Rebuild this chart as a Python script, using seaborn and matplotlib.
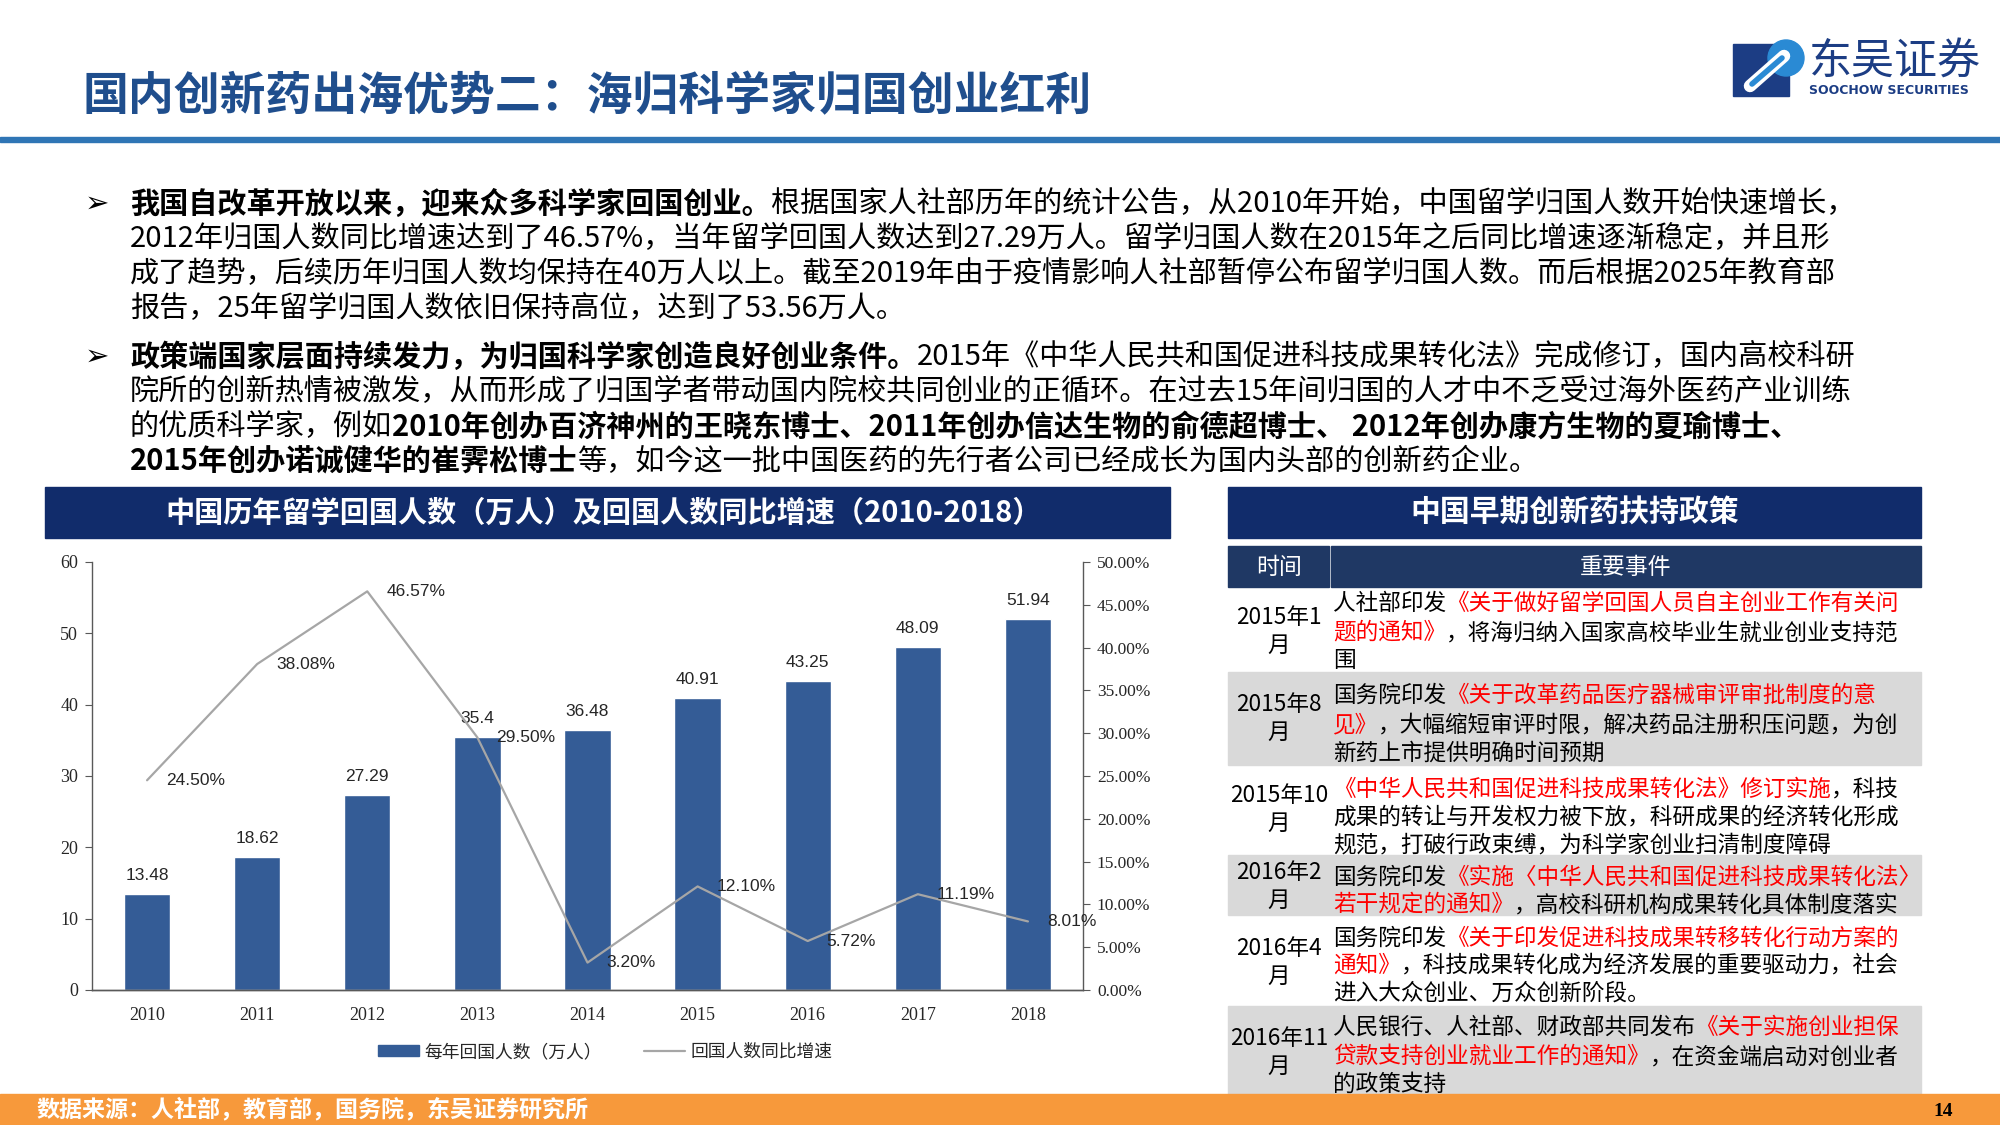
import matplotlib
matplotlib.use('Agg')
import numpy as np
import matplotlib.pyplot as plt
from matplotlib.patches import Rectangle, Patch, Circle
from matplotlib.lines import Line2D
import seaborn as sns

# ---- data ----
years = ['2010', '2011', '2012', '2013', '2014', '2015', '2016', '2017', '2018']
returnees = [13.48, 18.62, 27.29, 35.4, 36.48, 40.91, 43.25, 48.09, 51.94]   # 万人
growth = [24.50, 38.08, 46.57, 29.50, 3.20, 12.10, 5.72, 11.19, 8.01]        # %
left_ticks = list(range(0, 61, 10))
right_ticks = list(range(0, 51, 5))

title = '国内创新药出海优势二：海归科学家归国创业红利'
chart_title = '中国历年留学回国人数（万人）及回国人数同比增速（2010-2018）'
table_title = '中国早期创新药扶持政策'
legend_labels = ['每年回国人数（万人）', '回国人数同比增速']
source = '数据来源：人社部，教育部，国务院，东吴证券研究所'

# body text, one list of (text, bold) per line
bullet1 = [
    [('我国自改革开放以来，迎来众多科学家回国创业。', True),
     ('根据国家人社部历年的统计公告，从2010年开始，中国留学归国人数开始快速增长，', False)],
    [('2012年归国人数同比增速达到了46.57%，当年留学回国人数达到27.29万人。留学归国人数在2015年之后同比增速逐渐稳定，并且形', False)],
    [('成了趋势，后续历年归国人数均保持在40万人以上。截至2019年由于疫情影响人社部暂停公布留学归国人数。而后根据2025年教育部', False)],
    [('报告，25年留学归国人数依旧保持高位，达到了53.56万人。', False)],
]
bullet2 = [
    [('政策端国家层面持续发力，为归国科学家创造良好创业条件。', True),
     ('2015年《中华人民共和国促进科技成果转化法》完成修订，国内高校科研', False)],
    [('院所的创新热情被激发，从而形成了归国学者带动国内院校共同创业的正循环。在过去15年间归国的人才中不乏受过海外医药产业训练', False)],
    [('的优质科学家，例如', False),
     ('2010年创办百济神州的王晓东博士、2011年创办信达生物的俞德超博士、 2012年创办康方生物的夏瑜博士、', True)],
    [('2015年创办诺诚健华的崔霁松博士', True),
     ('等，如今这一批中国医药的先行者公司已经成长为国内头部的创新药企业。', False)],
]

# table: time label and event lines of (text, red?)
policy_times = ['2015年1\n月', '2015年8\n月', '2015年10\n月', '2016年2\n月', '2016年4\n月', '2016年11\n月']
policy_events = [
    [[('人社部印发', False), ('《关于做好留学回国人员自主创业工作有关问', True)],
     [('题的通知》', True), ('，将海归纳入国家高校毕业生就业创业支持范', False)],
     [('围', False)]],
    [[('国务院印发', False), ('《关于改革药品医疗器械审评审批制度的意', True)],
     [('见》', True), ('，大幅缩短审评时限，解决药品注册积压问题，为创', False)],
     [('新药上市提供明确时间预期', False)]],
    [[('《中华人民共和国促进科技成果转化法》修订实施', True), ('，科技', False)],
     [('成果的转让与开发权力被下放，科研成果的经济转化形成', False)],
     [('规范，打破行政束缚，为科学家创业扫清制度障碍', False)]],
    [[('国务院印发', False), ('《实施〈中华人民共和国促进科技成果转化法〉', True)],
     [('若干规定的通知》', True), ('，高校科研机构成果转化具体制度落实', False)]],
    [[('国务院印发', False), ('《关于印发促进科技成果转移转化行动方案的', True)],
     [('通知》', True), ('，科技成果转化成为经济发展的重要驱动力，社会', False)],
     [('进入大众创业、万众创新阶段。', False)]],
    [[('人民银行、人社部、财政部共同发布', False), ('《关于实施创业担保', True)],
     [('贷款支持创业就业工作的通知》', True), ('，在资金端启动对创业者', False)],
     [('的政策支持', False)]],
]

# ---- style ----
sns.set_style('white')
CJK = ['Noto Sans CJK SC', 'DejaVu Sans']
SERIF = ['Liberation Serif', 'DejaVu Serif']
NARROW = ['Liberation Sans Narrow', 'Liberation Sans', 'DejaVu Sans']
plt.rcParams['font.family'] = CJK

NAVY = '#112C6B'
HEAD = '#1F3864'
BAR = '#345C96'
LINE = '#A6A6A6'
AXC = '#595959'

W, H = 2000, 1125
fig = plt.figure(figsize=(20, 11.25), dpi=100)
bg = fig.add_axes([0, 0, 1, 1])
bg.set_xlim(0, W)
bg.set_ylim(H, 0)
bg.axis('off')
renderer = fig.canvas.get_renderer()


def runs(x, y, parts, size, colors):
    # draw text pieces one after another on a line
    for txt, flag in parts:
        t = bg.text(x, y, txt, fontsize=size, color=colors[flag][0],
                    fontweight=colors[flag][1], va='center_baseline', ha='left', family=CJK)
        x += t.get_window_extent(renderer).width
    return x


# title + rule
bg.text(83, 97, title, fontsize=33, fontweight='bold', color='#1F4E8D', va='center')
bg.add_patch(Rectangle((0, 137), W, 5, color='#2F75B5'))

# logo
bg.add_patch(Rectangle((1733, 44), 56, 52, color='#1C3D84'))
bg.add_patch(Circle((1786, 58), 18, color='#2A8AD4'))
bg.plot([1750, 1784], [86, 56], color='white', lw=9, solid_capstyle='round')
bg.plot([1752, 1782], [84, 58], color='#2A8AD4', lw=4, solid_capstyle='round')
bg.text(1809, 62, '东吴证券', fontsize=31, color='#1C3D84', va='center', ha='left')
bg.text(1809, 91, 'SOOCHOW SECURITIES', fontsize=9, fontweight='bold', color='#1C3D84',
        va='center', ha='left', family='DejaVu Sans')

# body bullets
body_colors = {True: ('black', 'bold'), False: ('black', 'normal')}
for lines, ys in [(bullet1, [201, 236, 271, 306]), (bullet2, [354, 389, 424, 459])]:
    bg.text(85, ys[0], '➢', fontsize=21, color='black', va='center_baseline', family=['DejaVu Sans'])
    for parts, y in zip(lines, ys):
        runs(130, y, parts, 21, body_colors)

# chart header band
bg.add_patch(Rectangle((45, 487), 1125, 51, color=NAVY))
bg.text(604, 513, chart_title, fontsize=21, fontweight='bold', color='white', ha='center', va='center')

# table
bg.add_patch(Rectangle((1228, 487), 693, 51, color=NAVY))
bg.text(1575, 513, table_title, fontsize=21.5, fontweight='bold', color='white', ha='center', va='center')
bg.add_patch(Rectangle((1228, 546), 101, 41, color=HEAD))
bg.add_patch(Rectangle((1331, 546), 590, 41, color=HEAD))
bg.text(1279, 567, '时间', fontsize=16.5, color='white', ha='center', va='center')
bg.text(1626, 567, '重要事件', fontsize=16.5, color='white', ha='center', va='center')
for y0, h in [(672, 93), (855, 60), (1006, 88)]:
    bg.add_patch(Rectangle((1228, y0), 693, h, color='#D9D9D9'))

event_y = [[601, 630, 658], [693, 722, 751], [787, 815, 842],
           [875, 902], [936, 963, 991], [1025, 1054, 1082]]
time_y = [615, 702, 793, 870, 946, 1036]
ev_colors = {True: ('#FF0000', 'normal'), False: ('black', 'normal')}
for tlabel, ty, ev, eys in zip(policy_times, time_y, policy_events, event_y):
    for k, part in enumerate(tlabel.split('\n')):
        bg.text(1279, ty + 28 * k, part, fontsize=16.3, color='black', ha='center', va='center_baseline')
    for parts, y in zip(ev, eys):
        runs(1333, y, parts, 16.3, ev_colors)

# footer
bg.add_patch(Rectangle((0, 1094), W, 31, color='#F7993B'))
bg.text(36, 1110, source, fontsize=16.6, fontweight='bold', color='white', va='center')
bg.text(1943, 1111, '14', fontsize=14, fontweight='bold', color='black', va='center', ha='center',
        family=SERIF)

# ---- chart ----
ax = fig.add_axes([92 / W, 1 - 990 / H, (1083 - 92) / W, (990 - 562) / H])
sns.barplot(x=years, y=returnees, color=BAR, saturation=1, width=0.42, ax=ax)
ax.bar_label(ax.containers[0], labels=[f'{v:g}' for v in returnees], padding=8,
             fontsize=12.5, family=NARROW)
ax.set_ylim(0, 60)
ax.set_yticks(left_ticks)
ax.set_xlabel('')
ax.set_ylabel('')

ax2 = ax.twinx()
sns.lineplot(x=np.arange(len(years)), y=growth, color=LINE, linewidth=1.6, ax=ax2)
for i, v in enumerate(growth):
    ax2.annotate(f'{v:.2f}%', (i, v), xytext=(19, 0), textcoords='offset pixels',
                 ha='left', va='center', fontsize=12.5, family=NARROW)
ax2.set_ylim(0, 50)
ax2.set_yticks(right_ticks)
ax2.set_yticklabels([f'{v:.2f}%' for v in right_ticks])
ax2.set_ylabel('')
ax.set_xlim(-0.5, len(years) - 0.5)

for a in (ax, ax2):
    for s in a.spines.values():
        s.set_color(AXC)
        s.set_linewidth(1)
    a.spines['top'].set_visible(False)
ax.spines['right'].set_visible(False)
ax2.spines['left'].set_visible(False)

ax.set_xticks(np.arange(-0.5, len(years), 1), minor=True)
ax.tick_params(axis='x', which='major', length=0, pad=12, labelsize=13)
ax.tick_params(axis='x', which='minor', length=5, direction='out', color=AXC, width=1)
ax.tick_params(axis='y', length=5, direction='out', color=AXC, labelsize=13, pad=5, left=True)
ax2.tick_params(axis='y', length=5, direction='out', color=AXC, labelsize=12.5, pad=5, right=True)
for lab in ax.get_xticklabels() + ax.get_yticklabels() + ax2.get_yticklabels():
    lab.set_family(SERIF)

fig.legend(handles=[Patch(color=BAR), Line2D([], [], color=LINE, lw=1.6)], labels=legend_labels,
           loc='center', bbox_to_anchor=(605 / W, 1 - 1052 / H), ncol=2, frameon=False,
           fontsize=12.8, handlelength=2.3, handleheight=0.6, handletextpad=0.3, columnspacing=2.4)

fig.savefig('out.png', dpi=100)
